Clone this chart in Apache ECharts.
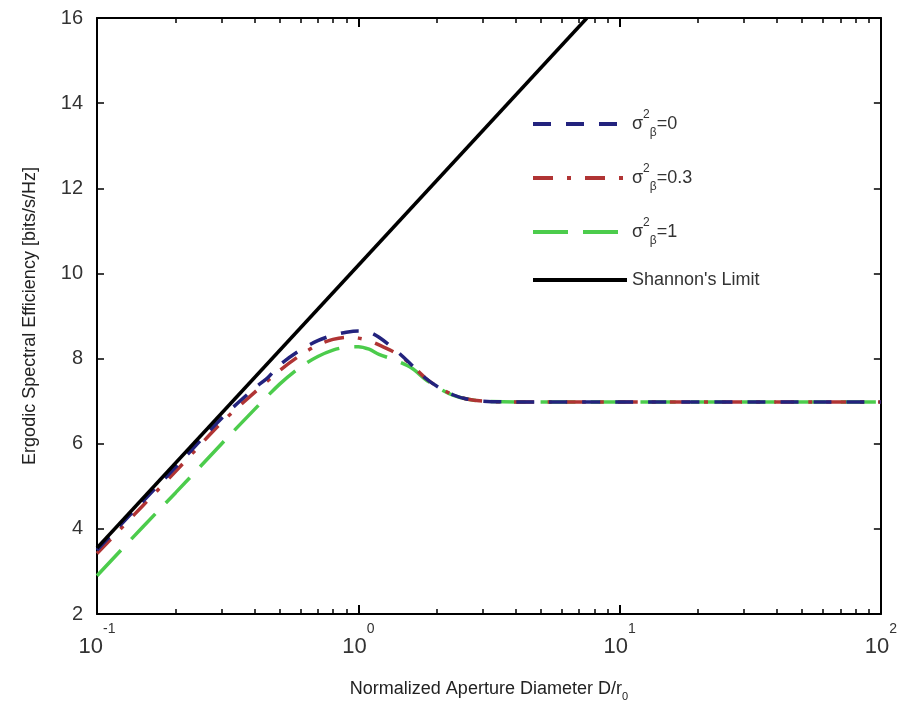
<!DOCTYPE html>
<html>
<head>
<meta charset="utf-8">
<script src="https://cdn.jsdelivr.net/npm/echarts@6/dist/echarts.min.js"></script>
<style>
  html, body { margin: 0; padding: 0; background: #fff; }
  #main { width: 900px; height: 712px; }
</style>
</head>
<body>
<div id="main"></div>
<script>
// 读图估计的数据 (x: D/r0, y: bits/s/Hz)
const xSigma0 = [0.1, 0.15, 0.2, 0.3, 0.4, 0.45, 0.5, 0.6, 0.7, 0.8, 0.9, 1.0, 1.1, 1.2, 1.4, 1.6, 1.8, 2.0, 2.3, 2.6, 3.0, 4.0, 100];
const ySigma0 = [3.5, 4.65, 5.45, 6.6, 7.3, 7.55, 7.85, 8.2, 8.42, 8.55, 8.62, 8.65, 8.62, 8.5, 8.18, 7.85, 7.55, 7.35, 7.15, 7.05, 7.0, 6.98, 6.98];

const xSigma03 = [0.1, 0.15, 0.2, 0.3, 0.4, 0.5, 0.6, 0.7, 0.8, 0.9, 1.0, 1.1, 1.2, 1.4, 1.6, 1.8, 2.0, 2.3, 2.6, 3.0, 4.0, 100];
const ySigma03 = [3.42, 4.55, 5.35, 6.5, 7.2, 7.72, 8.08, 8.32, 8.45, 8.5, 8.48, 8.42, 8.32, 8.12, 7.85, 7.55, 7.35, 7.15, 7.05, 7.0, 6.98, 6.98];

const xSigma1 = [0.1, 0.15, 0.2, 0.3, 0.4, 0.5, 0.6, 0.7, 0.8, 0.9, 1.0, 1.1, 1.2, 1.4, 1.6, 1.8, 2.0, 2.3, 2.6, 3.0, 4.0, 100];
const ySigma1 = [2.9, 4.05, 4.85, 6.0, 6.8, 7.4, 7.8, 8.05, 8.2, 8.27, 8.28, 8.22, 8.1, 7.95, 7.78, 7.52, 7.33, 7.14, 7.05, 7.0, 6.98, 6.98];

const xShannon = [0.1, 7.5];
const yShannon = [3.55, 16.0];

// 坐标轴刻度
const xMajor = [0.1, 1, 10, 100];
const xExp = ['-1', '0', '1', '2'];
const xMinor = [0.2, 0.3, 0.4, 0.5, 0.6, 0.7, 0.8, 0.9, 2, 3, 4, 5, 6, 7, 8, 9, 20, 30, 40, 50, 60, 70, 80, 90];
const yTicks = [2, 4, 6, 8, 10, 12, 14, 16];

const names = ['s0', 's03', 's1', 'shannon'];
const legendText = {
  s0: '{a|σ}{sup|2}{sub|β}{a|=0}',
  s03: '{a|σ}{sup|2}{sub|β}{a|=0.3}',
  s1: '{a|σ}{sup|2}{sub|β}{a|=1}',
  shannon: '{a|Shannon\'s Limit}'
};

// 线型
const styles = {
  s0: { color: '#23237e', type: [18, 15] },
  s03: { color: '#b03434', type: [20, 14, 4, 14] },
  s1: { color: '#4ccc4c', type: [35, 15] },
  shannon: { color: '#000', type: 'solid' }
};

function pairs(xs, ys) {
  return xs.map((x, i) => [x, ys[i]]);
}

const font = 'Liberation Sans, Arial, sans-serif';
const axisLine = { show: true, lineStyle: { color: '#000', width: 2 } };

let myChart = echarts.init(document.getElementById('main'));

let option = {
  backgroundColor: '#fff',
  animation: false,
  grid: { left: 97, right: 17, top: 18, bottom: 98, containLabel: false },
  legend: {
    orient: 'vertical',
    left: 526,
    top: 104,
    itemWidth: 94,
    itemHeight: 14,
    itemGap: 24,
    itemStyle: { opacity: 0 },
    data: names.map(n => ({
      name: n,
      itemStyle: { opacity: 0 },
      lineStyle: { color: styles[n].color, width: 4, type: styles[n].type }
    })),
    formatter: name => legendText[name],
    textStyle: {
      fontFamily: font,
      color: '#333',
      rich: {
        a: { fontSize: 18, fontFamily: font, color: '#333', lineHeight: 30, verticalAlign: 'middle' },
        sup: { fontSize: 12, fontFamily: font, color: '#333', lineHeight: 30, verticalAlign: 'top' },
        sub: { fontSize: 12, fontFamily: font, color: '#333', lineHeight: 30, verticalAlign: 'bottom' }
      }
    }
  },
  xAxis: [
    {
      type: 'log',
      logBase: 10,
      min: 0.1,
      max: 100,
      name: 'Normalized Aperture Diameter D/r{sub|0}',
      nameLocation: 'middle',
      nameGap: 62,
      nameTextStyle: {
        fontFamily: font, fontSize: 18, color: '#222',
        rich: { sub: { fontSize: 11, fontFamily: font, color: '#222', verticalAlign: 'bottom', lineHeight: 26 } }
      },
      axisLine: axisLine,
      axisTick: { show: true, inside: true, length: 9, customValues: xMajor, lineStyle: { color: '#000', width: 2 } },
      axisLabel: {
        customValues: xMajor,
        margin: 8,
        formatter: function (v) {
          let i = 0;
          xMajor.forEach((m, k) => { if (Math.abs(Math.log10(m) - Math.log10(v)) < 1e-6) i = k; });
          return '{b|10}{e|' + xExp[i] + '}';
        },
        rich: {
          b: { fontSize: 22, fontFamily: font, color: '#333', lineHeight: 36, verticalAlign: 'bottom' },
          e: { fontSize: 14, fontFamily: font, color: '#333', lineHeight: 36, verticalAlign: 'top' }
        }
      },
      splitLine: { show: false }
    },
    {
      type: 'log',
      logBase: 10,
      min: 0.1,
      max: 100,
      position: 'bottom',
      axisLine: { show: false },
      axisTick: { show: true, inside: true, length: 5, customValues: xMinor, lineStyle: { color: '#000', width: 1.5 } },
      axisLabel: { show: false },
      splitLine: { show: false }
    },
    {
      type: 'log',
      logBase: 10,
      min: 0.1,
      max: 100,
      position: 'top',
      axisLine: axisLine,
      axisTick: { show: true, inside: true, length: 9, customValues: xMajor, lineStyle: { color: '#000', width: 2 } },
      axisLabel: { show: false },
      splitLine: { show: false }
    },
    {
      type: 'log',
      logBase: 10,
      min: 0.1,
      max: 100,
      position: 'top',
      axisLine: { show: false },
      axisTick: { show: true, inside: true, length: 5, customValues: xMinor, lineStyle: { color: '#000', width: 1.5 } },
      axisLabel: { show: false },
      splitLine: { show: false }
    }
  ],
  yAxis: [
    {
      type: 'value',
      min: 2,
      max: 16,
      interval: 2,
      name: 'Ergodic Spectral Efficiency [bits/s/Hz]',
      nameLocation: 'middle',
      nameGap: 58,
      nameTextStyle: { fontFamily: font, fontSize: 18, color: '#222' },
      axisLine: axisLine,
      axisTick: { show: true, inside: true, length: 7, customValues: yTicks, lineStyle: { color: '#000', width: 1.5 } },
      axisLabel: { customValues: yTicks, margin: 14, fontFamily: font, fontSize: 20, color: '#333' },
      splitLine: { show: false }
    },
    {
      type: 'value',
      min: 2,
      max: 16,
      interval: 2,
      position: 'right',
      axisLine: axisLine,
      axisTick: { show: true, inside: true, length: 7, customValues: yTicks, lineStyle: { color: '#000', width: 1.5 } },
      axisLabel: { show: false },
      splitLine: { show: false }
    }
  ],
  series: names.map((n, k) => {
    const xs = [xSigma0, xSigma03, xSigma1, xShannon][k];
    const ys = [ySigma0, ySigma03, ySigma1, yShannon][k];
    return {
      name: n,
      type: 'line',
      symbol: 'none',
      smooth: n === 'shannon' ? false : 0.3,
      data: pairs(xs, ys),
      lineStyle: { color: styles[n].color, width: 3.5, type: styles[n].type },
      itemStyle: { color: styles[n].color },
      z: [4, 3, 2, 5][k]
    };
  })
};

myChart.setOption(option);
</script>
</body>
</html>
